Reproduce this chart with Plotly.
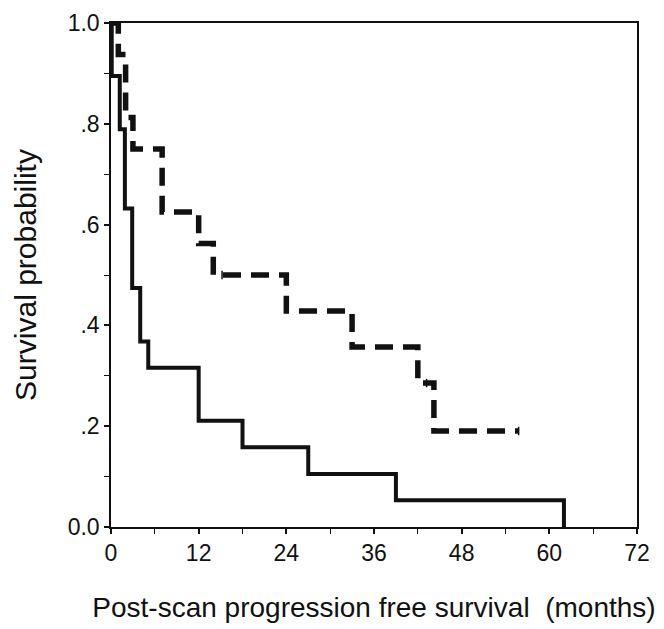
import plotly.graph_objects as go

# Group with worse outcome (solid line)
solid_t = [0, 0.1, 1.2, 1.9, 2.9, 4.0, 5.1, 12.0, 18.0, 27.0, 39.0, 62.0]
solid_s = [1.0, 0.895, 0.789, 0.632, 0.474, 0.368, 0.316, 0.211, 0.158, 0.105, 0.053, 0.0]

# Group with better outcome (dashed line)
dash_t = [0, 1.0, 2.0, 3.0, 7.0, 12.0, 14.0, 24.0, 33.0, 42.0, 44.2, 55.8]
dash_s = [1.0, 0.9375, 0.8125, 0.75, 0.625, 0.5625, 0.5, 0.4286, 0.3571, 0.2857, 0.1905, 0.1905]

# censored observations on dashed curve
cens_t = [15.2, 43.2, 55.8]
cens_s = [0.5, 0.2857, 0.1905]

x_ticks = [0, 12, 24, 36, 48, 60, 72]
y_tickvals = [0.0, 0.2, 0.4, 0.6, 0.8, 1.0]
y_ticktext = ["0.0", ".2", ".4", ".6", ".8", "1.0"]

fig = go.Figure()
fig.add_trace(go.Scatter(x=solid_t, y=solid_s, mode="lines", line_shape="hv",
                         line=dict(color="#111111", width=4), showlegend=False))
fig.add_trace(go.Scatter(x=dash_t, y=dash_s, mode="lines", line_shape="hv",
                         line=dict(color="#111111", width=5.5, dash="18px,10px"), showlegend=False))
fig.add_trace(go.Scatter(x=cens_t, y=cens_s, mode="markers",
                         marker=dict(symbol="line-ns-open", size=6, color="#111111",
                                     line=dict(width=1.5, color="#111111")),
                         showlegend=False))

font_family = "Liberation Sans, Arial, sans-serif"
# page body has an 8px margin, so the figure is sized/offset to compensate
fig.update_layout(
    width=656, height=621,
    margin=dict(l=103, r=27, t=15, b=102),
    paper_bgcolor="white", plot_bgcolor="white",
    font=dict(family=font_family, color="#111111"),
)
fig.update_xaxes(
    range=[0, 72], tickvals=x_ticks, ticks="outside", ticklen=5, tickwidth=1.5,
    tickcolor="#111111", showline=True, linecolor="#111111", linewidth=1.5,
    mirror=True, showgrid=False, zeroline=False, automargin=False,
    minor=dict(dtick=6, tick0=0, ticks="outside", ticklen=5, tickcolor="#111111", tickwidth=1.2),
    tickfont=dict(size=23),
    title=dict(text="Post-scan progression free survival  (months)", font=dict(size=28), standoff=32),
)
fig.update_yaxes(
    range=[0, 1.0], tickvals=y_tickvals, ticktext=y_ticktext, ticks="outside", ticklen=5,
    tickwidth=1.5, tickcolor="#111111", showline=True, linecolor="#111111", linewidth=1.5,
    mirror=True, showgrid=False, zeroline=False, automargin=False,
    minor=dict(dtick=0.1, tick0=0, ticks="outside", ticklen=5, tickcolor="#111111", tickwidth=1.2),
    tickfont=dict(size=23),
    title=dict(text="Survival probability", font=dict(size=30), standoff=22),
)
fig.write_html("out.html")
